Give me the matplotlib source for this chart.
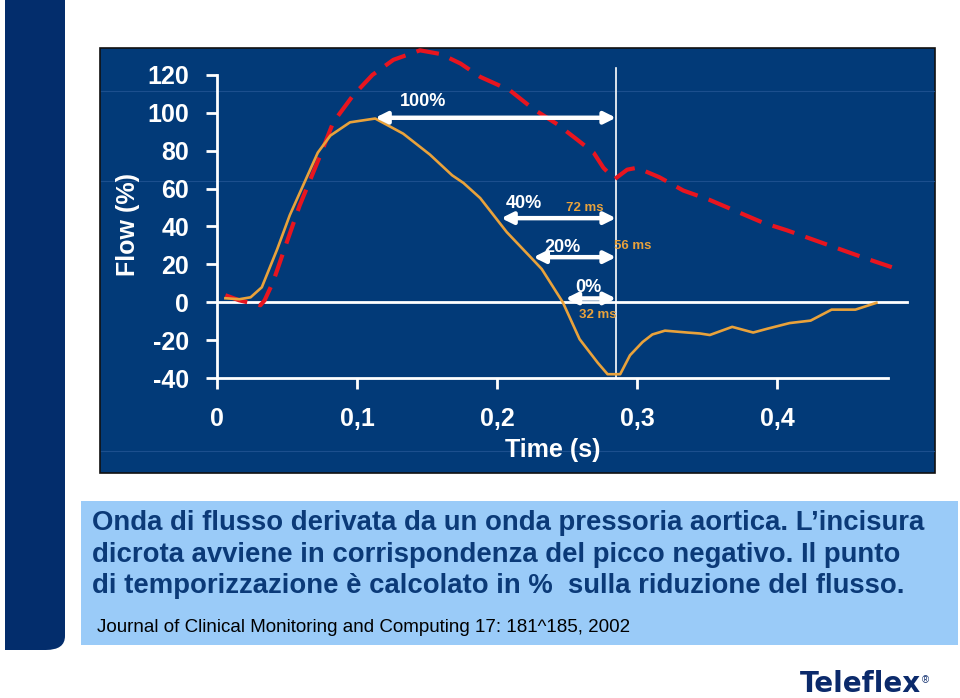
import numpy as np
import matplotlib
matplotlib.use('Agg')
import matplotlib.pyplot as plt
from matplotlib.patches import Rectangle, FancyBboxPatch

plt.rcParams['axes.unicode_minus'] = False

# flow curve derived from pressure (orange, solid)
t_flow = [0.006, 0.016, 0.024, 0.032, 0.043, 0.052, 0.072, 0.081, 0.095, 0.113,
          0.133, 0.152, 0.168, 0.176, 0.188, 0.207, 0.225, 0.232, 0.247, 0.259,
          0.272, 0.279, 0.288, 0.295, 0.304, 0.311, 0.320, 0.336, 0.345, 0.352,
          0.368, 0.383, 0.393, 0.409, 0.424, 0.439, 0.456, 0.471]
flow = [2.1, 1.6, 2.6, 7.9, 28, 46, 79, 88, 95, 97,
        89, 78, 67, 63, 55, 37, 23, 17.5, 0, -19.5,
        -32, -38, -38, -28, -21, -17, -15, -16, -16.5, -17.3,
        -13, -16, -14, -11, -9.7, -3.9, -3.9, -0.3]

# aortic pressure curve (red, dashed)
t_press = [0.006, 0.016, 0.031, 0.034, 0.040, 0.050, 0.059, 0.074, 0.083, 0.097,
           0.111, 0.126, 0.145, 0.160, 0.174, 0.188, 0.209, 0.226, 0.243, 0.257,
           0.269, 0.276, 0.284, 0.293, 0.300, 0.316, 0.333, 0.352, 0.371, 0.390,
           0.407, 0.426, 0.445, 0.464, 0.482]
press = [3.7, 1, -1.6, 1, 10.6, 32, 51, 78, 95, 109,
         120, 128, 133, 131, 126, 119, 112, 102, 94, 86,
         79, 71, 65, 70, 71, 66, 59, 54, 48, 42,
         38, 33, 28, 23, 18.5]

# timing arrows
levels = ['100%', '40%', '20%', '0%']
arrow_start = [0.113, 0.203, 0.226, 0.249]
arrow_y = [97.4, 44.4, 23.8, 2.0]
label_x = [0.147, 0.219, 0.247, 0.265]
label_y = [106, 52, 29, 8]
durations = ['', '72 ms', '56 ms', '32 ms']
dur_x = [None, 0.263, 0.297, 0.272]
dur_y = [None, 49.5, 29.5, -7]
t_notch = 0.285

yticks = [-40, -20, 0, 20, 40, 60, 80, 100, 120]
xticks = [0, 0.1, 0.2, 0.3, 0.4]
xlabels = ['0', '0,1', '0,2', '0,3', '0,4']

navy = '#023a78'
white = 'white'
orange = '#e9a23b'
red = '#e8151f'

W, H = 960, 698
fig = plt.figure(figsize=(9.6, 6.98), dpi=100)
fig.patch.set_facecolor('white')

def fx(px):
    return px / W

def fy(py):
    return 1 - py / H

# left bar with rounded bottom-right corner
fig.patches.append(FancyBboxPatch((fx(5), fy(650)), fx(60), fy(-20) - fy(650),
                                  boxstyle='round,pad=0,rounding_size=0.02',
                                  transform=fig.transFigure, facecolor='#032d6c',
                                  edgecolor='none', zorder=-2))
fig.patches.append(Rectangle((fx(5), fy(650)), fx(20), fy(600) - fy(650),
                             transform=fig.transFigure, facecolor='#032d6c',
                             edgecolor='none', zorder=-2))

# chart panel
fig.patches.append(Rectangle((fx(100), fy(473)), fx(835), fy(48) - fy(473),
                             transform=fig.transFigure, facecolor=navy,
                             edgecolor='#111111', lw=1.2, zorder=-2))
for py in [91, 181, 451]:
    fig.lines.append(plt.Line2D([fx(101), fx(934)], [fy(py), fy(py)],
                                transform=fig.transFigure, color='#1c4f8e', lw=0.8,
                                zorder=-1))

# text box
fig.patches.append(Rectangle((fx(81), fy(645)), fx(877), fy(501) - fy(645),
                             transform=fig.transFigure, facecolor='#9acbf8',
                             edgecolor='none', zorder=-2))

ax = fig.add_axes([fx(217), fy(378), fx(700), fy(48) - fy(378)])
ax.patch.set_alpha(0)
ax.set_zorder(1)
ax.set_xlim(0, 0.5)
ax.set_ylim(-40, -40 + 330 / 1.894)

ax.plot(t_press, press, color=red, lw=3, linestyle=(0, (5.5, 2.8)), zorder=3)
ax.plot(t_flow, flow, color=orange, lw=1.9, zorder=4)

ax.axhline(0, xmin=0, xmax=0.986, color=white, lw=2, zorder=2)
ax.axvline(t_notch, ymin=0, ymax=0.94, color=white, lw=1.2, zorder=2)

for i, lev in enumerate(levels):
    ax.annotate('', xy=(t_notch, arrow_y[i]), xytext=(arrow_start[i], arrow_y[i]),
                arrowprops=dict(arrowstyle='<|-|>', color=white, lw=3.2,
                                mutation_scale=17, shrinkA=0, shrinkB=0), zorder=5)
    ax.text(label_x[i], label_y[i], lev, color=white, fontsize=13, fontweight='bold',
            ha='center', va='center', family='Liberation Sans', zorder=6)
    if durations[i]:
        ax.text(dur_x[i], dur_y[i], durations[i], color=orange, fontsize=9.5,
                fontweight='bold', ha='center', va='center',
                family='Liberation Sans', zorder=6)

for s in ['top', 'right']:
    ax.spines[s].set_visible(False)
ax.spines['left'].set_bounds(-40, 120)
ax.spines['bottom'].set_bounds(0, 0.479)
ax.spines['bottom'].set_position(('data', -40))
for s in ['left', 'bottom']:
    ax.spines[s].set_color(white)
    ax.spines[s].set_linewidth(2)

ax.set_yticks(yticks)
ax.set_xticks(xticks)
ax.set_xticklabels(xlabels)
ax.tick_params(axis='both', colors=white, width=2, length=8, labelsize=18)
ax.tick_params(axis='y', pad=12)
ax.tick_params(axis='x', pad=13)
for lab in ax.get_xticklabels() + ax.get_yticklabels():
    lab.set_fontweight('bold')
    lab.set_family('Liberation Sans')

fig.text(fx(553), fy(450), 'Time (s)', color=white, fontsize=18, fontweight='bold',
         ha='center', va='center', family='Liberation Sans')
fig.text(fx(128), fy(225), 'Flow (%)', color=white, fontsize=18, fontweight='bold',
         ha='center', va='center', rotation=90, family='Liberation Sans')

paragraph = ['Onda di flusso derivata da un onda pressoria aortica. L\u2019incisura',
             'dicrota avviene in corrispondenza del picco negativo. Il punto',
             'di temporizzazione \u00e8 calcolato in %  sulla riduzione del flusso.']
para_y = [523, 555, 586]
for line, py in zip(paragraph, para_y):
    fig.text(fx(92), fy(py), line, color='#0b3a78', fontsize=19.8, fontweight='bold',
             ha='left', va='center', family='Liberation Sans')
fig.text(fx(97), fy(628), 'Journal of Clinical Monitoring and Computing 17: 181^185, 2002',
         color='black', fontsize=13.5, ha='left', va='center', family='Liberation Sans')

fig.text(fx(800), fy(684), 'Teleflex', color='#0b2a6b', fontsize=20, fontweight='bold',
         ha='left', va='center', family='DejaVu Sans')
fig.text(fx(925), fy(680), '\u00ae', color='#0b2a6b', fontsize=7,
         ha='center', va='center', family='Liberation Sans')

plt.savefig('out.png', dpi=100)
